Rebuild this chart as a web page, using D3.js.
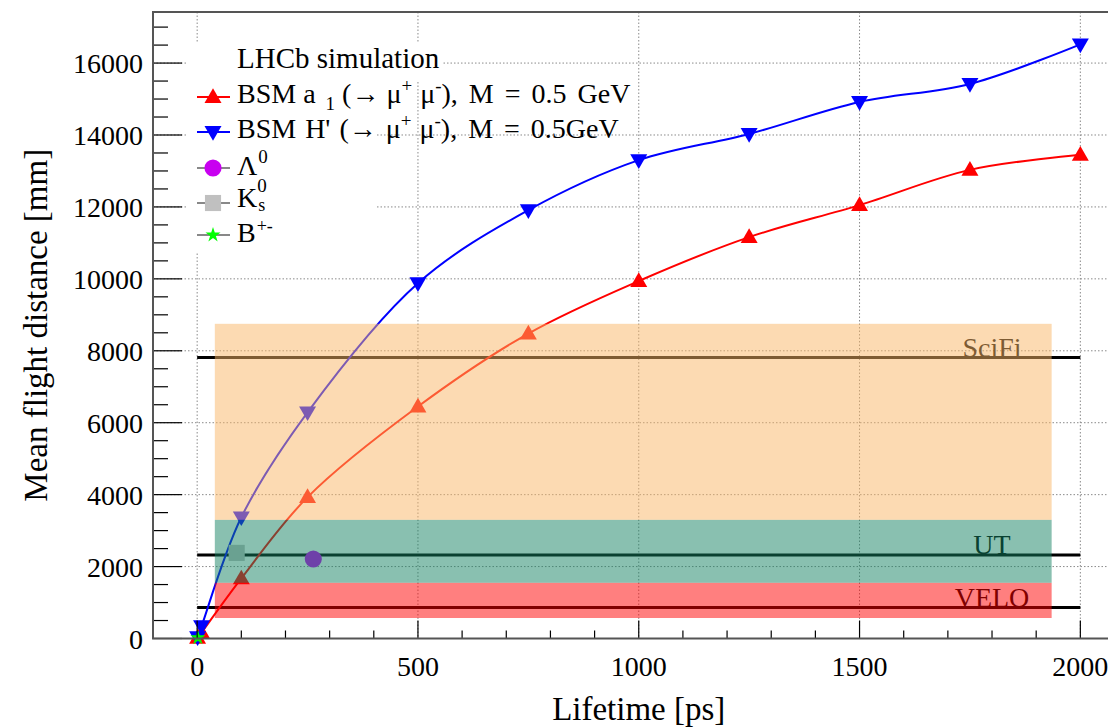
<!DOCTYPE html>
<html><head><meta charset="utf-8">
<script src="https://cdn.jsdelivr.net/npm/d3@7"></script>
<style>
body{margin:0;background:#fff}
svg text{font-family:"Liberation Serif","Tinos","DejaVu Serif",serif;fill:#000}
</style>
</head><body>
<svg id="c" width="1108" height="727" font-family="Liberation Serif, DejaVu Serif, serif"></svg>
<script>
// ---- data ----
const lifetimes   = [1, 10, 100, 250, 500, 750, 1000, 1250, 1500, 1750, 2000];
const a1Dist      = [17, 165, 1670, 3930, 6450, 8480, 9940, 11160, 12050, 13030, 13450];
const hPrimeDist  = [34, 340, 3370, 6290, 9880, 11910, 13300, 14030, 14920, 15420, 16520];
const lambdaPoint = [263, 2210];
const kshortPoint = [89.5, 2380];
const bPoint      = [1.64, 20];
const detectors       = ["VELO", "UT", "SciFi"];
const detectorZ       = [860, 2320, 7810];
const detectorBandLow = [570, 1550, 3300];
const detectorBandHigh= [1550, 3300, 8750];
const bandLifetime    = [40, 1935];
const detectorLabelX  = 1800;
const xTickValues = [0, 500, 1000, 1500, 2000];
const yTickValues = [0, 2000, 4000, 6000, 8000, 10000, 12000, 14000, 16000];
const xDomain = [-100, 2100];
const yDomain = [0, 17420];

// ---- drawing ----
const svg = d3.select("#c");
const pLeft = 153, pRight = 1124.5, pTop = 12, pBottom = 638.5;
const x = d3.scaleLinear().domain(xDomain).range([pLeft, pRight]);
const y = d3.scaleLinear().domain(yDomain).range([pBottom, pTop]);

const bandColors = ["rgb(255,0,0)", "rgb(19,129,97)", "rgb(249,181,101)"];

// grid
const grid = svg.append("g").attr("stroke", "#8a8a8a").attr("stroke-width", 1).attr("stroke-dasharray", "1.5,2");
grid.selectAll("line").data(xTickValues).join("line")
  .attr("x1", d => x(d)).attr("x2", d => x(d)).attr("y1", pTop).attr("y2", pBottom);
const grid2 = svg.append("g").attr("stroke", "#8a8a8a").attr("stroke-width", 1).attr("stroke-dasharray", "1.5,2");
grid2.selectAll("line").data(yTickValues.filter(d => d > 0)).join("line")
  .attr("x1", pLeft).attr("x2", pRight).attr("y1", d => y(d)).attr("y2", d => y(d));

// legend background (hides grid like reference)
svg.append("rect").attr("x", 188).attr("y", 43).attr("width", 254).attr("height", 38).attr("fill", "#fff");
svg.append("rect").attr("x", 188).attr("y", 80).attr("width", 189).attr("height", 172).attr("fill", "#fff");

// detector lines
svg.append("g").selectAll("line").data(detectorZ).join("line")
  .attr("x1", x(0)).attr("x2", x(2000)).attr("y1", d => y(d)).attr("y2", d => y(d))
  .attr("stroke", "#000").attr("stroke-width", 3);
svg.append("g").selectAll("text").data(detectors).join("text")
  .attr("x", x(detectorLabelX)).attr("y", (d, i) => y(detectorZ[i]) - 1)
  .attr("text-anchor", "middle").attr("font-size", 28).text(d => d);

// curves
const line = d3.line().x(d => x(d[0])).y(d => y(d[1])).curve(d3.curveCatmullRom.alpha(0.5));
const a1Pts = lifetimes.map((t, i) => [t, a1Dist[i]]);
const hPts = lifetimes.map((t, i) => [t, hPrimeDist[i]]);
svg.append("path").attr("d", line(a1Pts)).attr("fill", "none").attr("stroke", "#ff0000").attr("stroke-width", 2);
svg.append("path").attr("d", line(hPts)).attr("fill", "none").attr("stroke", "#0000ff").attr("stroke-width", 2);

const triUp = d3.symbol(d3.symbolTriangle, 125)();
svg.append("g").selectAll("path").data(a1Pts).join("path")
  .attr("d", triUp).attr("transform", d => `translate(${x(d[0])},${y(d[1]) + 1})`).attr("fill", "#ff0000");
svg.append("g").selectAll("path").data(hPts).join("path")
  .attr("d", triUp).attr("transform", d => `translate(${x(d[0])},${y(d[1]) - 1}) rotate(180)`).attr("fill", "#0000ff");

svg.append("path").attr("d", d3.symbol(d3.symbolCircle, 230)())
  .attr("transform", `translate(${x(lambdaPoint[0])},${y(lambdaPoint[1])})`).attr("fill", "#c800f0");
svg.append("path").attr("d", d3.symbol(d3.symbolSquare, 260)())
  .attr("transform", `translate(${x(kshortPoint[0])},${y(kshortPoint[1])})`).attr("fill", "#c0c0c0");
svg.append("path").attr("d", d3.symbol(d3.symbolStar, 70)())
  .attr("transform", `translate(${x(bPoint[0])},${y(bPoint[1])})`).attr("fill", "#00ff00");

// translucent detector bands
svg.append("g").selectAll("rect").data(detectors).join("rect")
  .attr("x", x(bandLifetime[0])).attr("width", x(bandLifetime[1]) - x(bandLifetime[0]))
  .attr("y", (d, i) => y(detectorBandHigh[i]))
  .attr("height", (d, i) => y(detectorBandLow[i]) - y(detectorBandHigh[i]))
  .attr("fill", (d, i) => bandColors[i]).attr("fill-opacity", 0.5);

// axes ticks
const ax = svg.append("g").attr("stroke", "#000").attr("stroke-width", 1.2);
const xMinor = d3.range(-100, 2101, 100);
ax.append("g").selectAll("line").data(xMinor).join("line")
  .attr("x1", d => x(d)).attr("x2", d => x(d))
  .attr("y1", pBottom).attr("y2", d => pBottom - (d % 500 === 0 ? 18 : 8));
const yMinor = d3.range(0, 17401, 500);
ax.append("g").selectAll("line").data(yMinor).join("line")
  .attr("y1", d => y(d)).attr("y2", d => y(d))
  .attr("x1", pLeft).attr("x2", d => pLeft + (d % 2000 === 0 ? 29 : 15));
// frame
svg.append("path").attr("d", `M${pRight},${pTop}H${pLeft}V${pBottom}H${pRight}`)
  .attr("fill", "none").attr("stroke", "#555").attr("stroke-width", 2);

// tick labels
svg.append("g").selectAll("text").data(xTickValues).join("text")
  .attr("x", d => x(d)).attr("y", 676).attr("text-anchor", "middle").attr("font-size", 28).text(d => d);
svg.append("g").selectAll("text").data(yTickValues).join("text")
  .attr("x", 143).attr("y", d => y(d) + 10).attr("text-anchor", "end").attr("font-size", 28).text(d => d);

// axis titles
svg.append("text").attr("x", x(1000)).attr("y", 720).attr("text-anchor", "middle").attr("font-size", 33).text("Lifetime [ps]");
svg.append("text").attr("transform", `translate(47,${(pTop + pBottom) / 2}) rotate(-90)`)
  .attr("text-anchor", "middle").attr("font-size", 33).text("Mean flight distance [mm]");

// legend
const lg = svg.append("g");
lg.append("text").attr("x", 237).attr("y", 68).attr("font-size", 29).text("LHCb simulation");
const rows = [
  {y: 97, color: "#ff0000", line: "#ff0000", sym: "up"},
  {y: 132, color: "#0000ff", line: "#0000ff", sym: "down"},
  {y: 168, color: "#c800f0", line: "#888", sym: "circle"},
  {y: 203, color: "#c0c0c0", line: "#888", sym: "square"},
  {y: 235, color: "#00ff00", line: "#888", sym: "star"}
];
rows.forEach(r => {
  lg.append("line").attr("x1", 197).attr("x2", 230).attr("y1", r.y).attr("y2", r.y).attr("stroke", r.line).attr("stroke-width", 2);
  let p;
  if (r.sym === "up") p = lg.append("path").attr("d", triUp).attr("transform", `translate(213,${r.y + 1})`);
  if (r.sym === "down") p = lg.append("path").attr("d", triUp).attr("transform", `translate(213,${r.y - 1}) rotate(180)`);
  if (r.sym === "circle") p = lg.append("path").attr("d", d3.symbol(d3.symbolCircle, 230)()).attr("transform", `translate(213,${r.y})`);
  if (r.sym === "square") p = lg.append("path").attr("d", d3.symbol(d3.symbolSquare, 260)()).attr("transform", `translate(213,${r.y})`);
  if (r.sym === "star") p = lg.append("path").attr("d", d3.symbol(d3.symbolStar, 70)()).attr("transform", `translate(213,${r.y})`);
  p.attr("fill", r.color);
});
// row texts
let t = lg.append("text").attr("x", 237).attr("y", 103).attr("font-size", 28);
t.append("tspan").text("BSM a");
t.append("tspan").attr("dx", 10).attr("dy", 7).attr("font-size", 19).text("1");
t.append("tspan").attr("dx", 7).attr("dy", -7).text("(\u2192 \u03bc");
t.append("tspan").attr("dy", -11).attr("font-size", 19).text("+");
t.append("tspan").attr("dx", 8).attr("dy", 11).text("\u03bc");
t.append("tspan").attr("dy", -11).attr("font-size", 19).text("-");
t.append("tspan").attr("dy", 11).attr("word-spacing", 4).text("), M = 0.5 GeV");

t = lg.append("text").attr("x", 237).attr("y", 138).attr("font-size", 28);
t.append("tspan").attr("word-spacing", 2).text("BSM H' (\u2192 \u03bc");
t.append("tspan").attr("dy", -11).attr("font-size", 19).text("+");
t.append("tspan").attr("dx", 8).attr("dy", 11).text("\u03bc");
t.append("tspan").attr("dy", -11).attr("font-size", 19).text("-");
t.append("tspan").attr("dy", 11).attr("word-spacing", 4).text("), M = 0.5GeV");

t = lg.append("text").attr("x", 237).attr("y", 175).attr("font-size", 28);
t.append("tspan").text("\u039b");
t.append("tspan").attr("dx", 1).attr("dy", -12).attr("font-size", 19).text("0");

t = lg.append("text").attr("x", 237).attr("y", 207).attr("font-size", 28);
t.append("tspan").text("K");
t.append("tspan").attr("dx", 1).attr("dy", 4).attr("font-size", 18).text("s");
t.append("tspan").attr("dx", -8).attr("dy", -19).attr("font-size", 19).text("0");

t = lg.append("text").attr("x", 237).attr("y", 242).attr("font-size", 28);
t.append("tspan").text("B");
t.append("tspan").attr("dx", 1).attr("dy", -10).attr("font-size", 18).text("+-");
</script>
</body></html>
